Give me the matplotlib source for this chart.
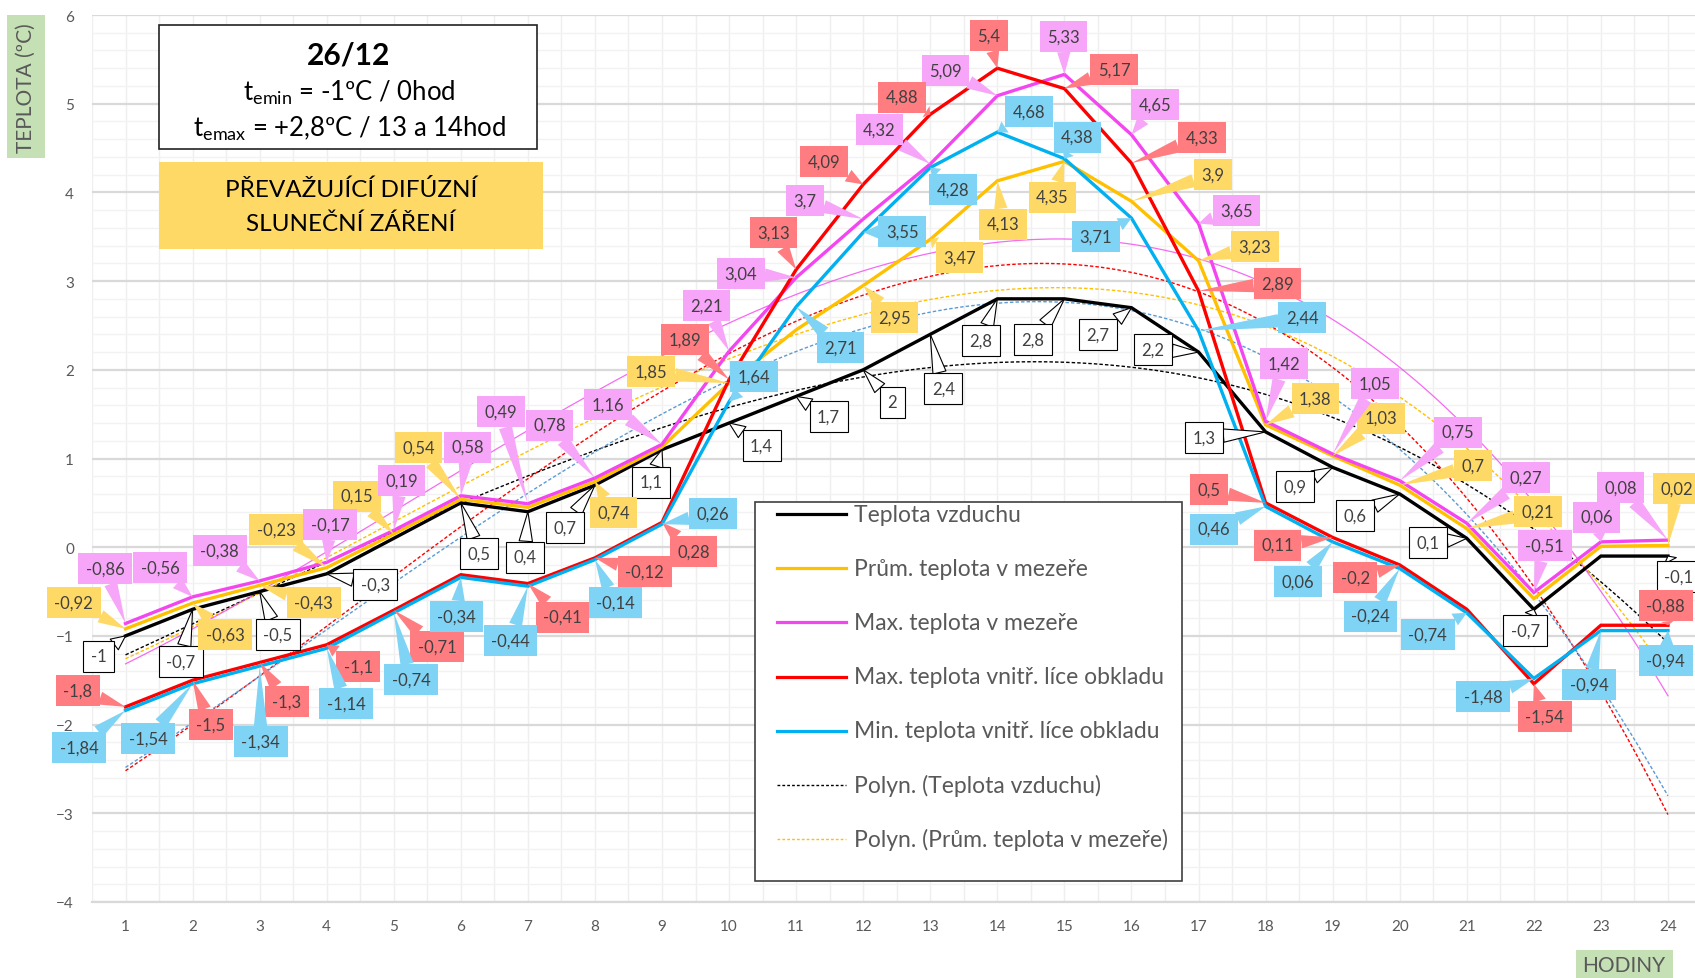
import matplotlib
matplotlib.use("Agg")
import matplotlib.pyplot as plt
from matplotlib.patches import Rectangle
from matplotlib.lines import Line2D
import numpy as np

plt.rcParams['font.family'] = ['Lato', 'DejaVu Sans']

# data - hodiny a teploty
hodiny = list(range(1, 25))
teplota_vzduchu = [-1, -0.7, -0.5, -0.3, 0.1, 0.5, 0.4, 0.7, 1.1, 1.4, 1.7, 2,
                   2.4, 2.8, 2.8, 2.7, 2.2, 1.3, 0.9, 0.6, 0.1, -0.7, -0.1, -0.1]
prum_mezera = [-0.92, -0.63, -0.43, -0.23, 0.15, 0.54, 0.45, 0.74, 1.13, 1.85, 2.45, 2.95,
               3.47, 4.13, 4.35, 3.9, 3.23, 1.38, 1.03, 0.7, 0.21, -0.58, 0.01, 0.02]
max_mezera = [-0.86, -0.56, -0.38, -0.17, 0.19, 0.58, 0.49, 0.78, 1.16, 2.21, 3.04, 3.7,
              4.32, 5.09, 5.33, 4.65, 3.65, 1.42, 1.05, 0.75, 0.27, -0.51, 0.06, 0.08]
max_oblad = [-1.8, -1.5, -1.3, -1.1, -0.71, -0.31, -0.41, -0.12, 0.28, 1.89, 3.13, 4.09,
             4.88, 5.4, 5.17, 4.33, 2.89, 0.5, 0.11, -0.2, -0.7, -1.54, -0.88, -0.88]
min_oblad = [-1.84, -1.54, -1.34, -1.14, -0.74, -0.34, -0.44, -0.14, 0.26, 1.64, 2.71, 3.55,
             4.28, 4.68, 4.38, 3.71, 2.44, 0.46, 0.06, -0.24, -0.74, -1.48, -0.94, -0.94]

nazvy = ['Teplota vzduchu', 'Prům. teplota v mezeře', 'Max. teplota v mezeře',
         'Max. teplota vnitř. líce obkladu', 'Min. teplota vnitř. líce obkladu']

# posuny popisku (px v nahledu, dolu kladne), None = skryty
off_vzduch = [(-25, 19), (-11, 48), (17, 40), (45, 10), None, (17, 47), (-3, 42), (-28, 39),
              (-10, 30), (30, 21), (30, 19), (27, 30), (12, 50), (-15, 39), (-29, 38), (-31, 25),
              (-42, -2), (-57, 5), (-35, 18), (-41, 20), (-36, 4), (-8, 20), None, (10, 19)]
off_prum = [(-48, -24), (30, 29), (50, 16), (-47, -35), (-34, -35), (-39, -48), None, (17, 29),
            None, (-72, -11), None, (29, 30), (27, 17), (5, 40), (-11, 33), (75, -25),
            (52, -13), (46, -24), (45, -35), (68, -18), (66, -16), None, None, (8, -53)]
off_max = [(-19, -51), (-30, -27), (-37, -28), (3, -35), (7, -46), (6, -45), (-25, -85), (-42, -49),
           (-50, -37), (-21, -42), (-51, -4), (-54, -17), (-47, -32), (-48, -23), (-1, -35), (22, -28),
           (35, -12), (17, -53), (39, -65), (54, -45), (55, -42), (10, -43), (-4, -23), (-44, -49)]
off_maxo = [(-44, -15), (17, 41), (25, 36), (29, 20), (40, 34), None, (32, 31), (46, 13),
            (29, 27), (-41, -37), (-21, -34), (-36, -21), (-26, -16), (-8, -30), (46, -18), (65, -24),
            (73, -7), (-52, -12), (-51, 7), (-41, 12), None, (10, 30), None, (-2, -18)]
off_mino = [(-43, 34), (-41, 51), (1, 70), (18, 51), (16, 62), (-4, 36), (-16, 50), (19, 40),
            (47, -10), (23, -23), (41, 38), (36, -1), (21, 20), (29, -19), (12, -20), (-33, 17),
            (96, -12), (-48, 21), (-32, 37), (-27, 44), (-36, 20), (-47, 17), (-11, 50), (-2, 28)]

W, H = 1695, 979
S = 1695 / 1568


def fx(x):
    return x / W


def fy(y):
    return 1 - y / H


def fmt(v):
    return f"{v:g}".replace('.', ',')


fig = plt.figure(figsize=(W / 100, H / 100), dpi=100)
ax = fig.add_axes([fx(92), fy(903), (1701.5 - 92) / W, (903 - 16) / H])
ax.set_xlim(0.5, 24.5)
ax.set_ylim(-4, 6)

# mrizka
ax.set_xticks(hodiny)
ax.set_xticks(np.arange(0.5, 25, 1), minor=True)
ax.set_yticks(range(-4, 7))
ax.set_yticks(np.arange(-4, 6.01, 0.2), minor=True)
ax.grid(True, axis='x', which='both', color='#EFEFEF', lw=1)
ax.grid(True, axis='y', which='minor', color='#F2F2F2', lw=1)
ax.grid(True, axis='y', which='major', color='#D9D9D9', lw=1.6)
ax.set_axisbelow(True)
for s in ['top', 'right', 'left']:
    ax.spines[s].set_visible(False)
ax.spines['bottom'].set_color('#D9D9D9')
ax.spines['bottom'].set_linewidth(1.6)
ax.tick_params(which='both', length=0)
ax.tick_params(axis='x', pad=12, labelsize=11, labelcolor='#595959')
ax.tick_params(axis='y', pad=13, labelsize=11, labelcolor='#595959')

barvy = ['#000000', '#FFC000', '#F446F0', '#FF0000', '#00B0F0']
barvy_trend = ['#000000', '#FFC000', '#F446F0', '#FF0000', '#5B9BD5']
styly_trend = [(0, (2.5, 1.5)), (0, (2.5, 1.5)), '-', (0, (2.5, 1.5)), (0, (2.5, 1.5))]
serie = [teplota_vzduchu, prum_mezera, max_mezera, max_oblad, min_oblad]

# polynomicke spojnice trendu
xx = np.linspace(1, 24, 200)
for vals, c, st in zip(serie, barvy_trend, styly_trend):
    p = np.polyfit(hodiny, vals, 3)
    ax.plot(xx, np.polyval(p, xx), color=c, lw=0.9 if st == '-' else 1.0, ls=st,
            alpha=0.8 if st == '-' else 1, zorder=2)

for vals, c in zip(serie, barvy):
    ax.plot(hodiny, vals, color=c, lw=2.4, zorder=3, solid_joinstyle='miter')

# popisky dat
popisky = [(teplota_vzduchu, off_vzduch, 'white', 'black'),
           (prum_mezera, off_prum, '#FFD966', 'none'),
           (max_mezera, off_max, '#F6A5F8', 'none'),
           (max_oblad, off_maxo, '#FF7C80', 'none'),
           (min_oblad, off_mino, '#7FD3F5', 'none')]
for vals, offs, fc, ec in popisky:
    for h, v, off in zip(hodiny, vals, offs):
        if off is None:
            continue
        dx, dy = off
        ax.annotate(fmt(v), xy=(h, v), xytext=(dx * S, -dy * S), textcoords='offset pixels',
                    ha='center', va='center', fontsize=12, color='#404040', zorder=6,
                    bbox=dict(boxstyle='square,pad=0.45', fc=fc, ec=ec, lw=0.8),
                    arrowprops=dict(arrowstyle='wedge,tail_width=0.8', fc=fc, ec=ec, lw=0.8,
                                    shrinkA=0, shrinkB=0))

# textove ramecky
fig.add_artist(Rectangle((fx(159), fy(150)), (537 - 159) / W, (150 - 26) / H,
                         transform=fig.transFigure, fc='white', ec='#222222', lw=1.2, zorder=8))
fig.text(fx(349), fy(55), '26/12', ha='center', va='center', fontsize=21.5, fontweight='bold', zorder=9)
fig.text(fx(349), fy(93), 't$_{\\mathregular{emin}}$ = -1ºC / 0hod', ha='center', va='center',
         fontsize=18.5, zorder=9)
fig.text(fx(349), fy(129), 't$_{\\mathregular{emax}}$ = +2,8ºC / 13 a 14hod', ha='center', va='center',
         fontsize=18.5, zorder=9)

fig.add_artist(Rectangle((fx(159), fy(250)), (543 - 159) / W, (250 - 163) / H,
                         transform=fig.transFigure, fc='#FFD966', ec='none', zorder=8))
fig.text(fx(351), fy(207), 'PŘEVAŽUJÍCÍ DIFÚZNÍ\nSLUNEČNÍ ZÁŘENÍ', ha='center', va='center',
         fontsize=17.5, linespacing=1.7, zorder=9)

fig.add_artist(Rectangle((fx(7), fy(159)), 38 / W, 143 / H, transform=fig.transFigure,
                         fc='#C5E0B4', ec='none'))
fig.text(fx(26), fy(88), 'TEPLOTA (ºC)', rotation=90, ha='center', va='center',
         fontsize=15, color='#595959')
fig.add_artist(Rectangle((fx(1576), fy(979)), 97 / W, 28 / H, transform=fig.transFigure,
                         fc='#C5E0B4', ec='none'))
fig.text(fx(1624), fy(966), 'HODINY', ha='center', va='center', fontsize=15, color='#595959')

# legenda
fig.add_artist(Rectangle((fx(755), fy(882)), (1182 - 755) / W, (882 - 503) / H,
                         transform=fig.transFigure, fc='white', ec='#404040', lw=1.2, zorder=10))
leg_nazvy = nazvy + ['Polyn. (Teplota vzduchu)', 'Polyn. (Prům. teplota v mezeře)']
leg_barvy = barvy + [barvy_trend[0], barvy_trend[1]]
for i, (n, c) in enumerate(zip(leg_nazvy, leg_barvy)):
    y = 515 + 54.2 * i
    if i < 5:
        ln = Line2D([fx(777), fx(846)], [fy(y), fy(y)], color=c, lw=2.3, transform=fig.transFigure, zorder=11)
    else:
        ln = Line2D([fx(777), fx(846)], [fy(y), fy(y)], color=c, lw=1.0, ls=(0, (2, 1.5)),
                    transform=fig.transFigure, zorder=11)
    fig.add_artist(ln)
    fig.text(fx(854), fy(y), n, ha='left', va='center', fontsize=16.5, color='#595959', zorder=12)

fig.savefig('out.png', dpi=100)
